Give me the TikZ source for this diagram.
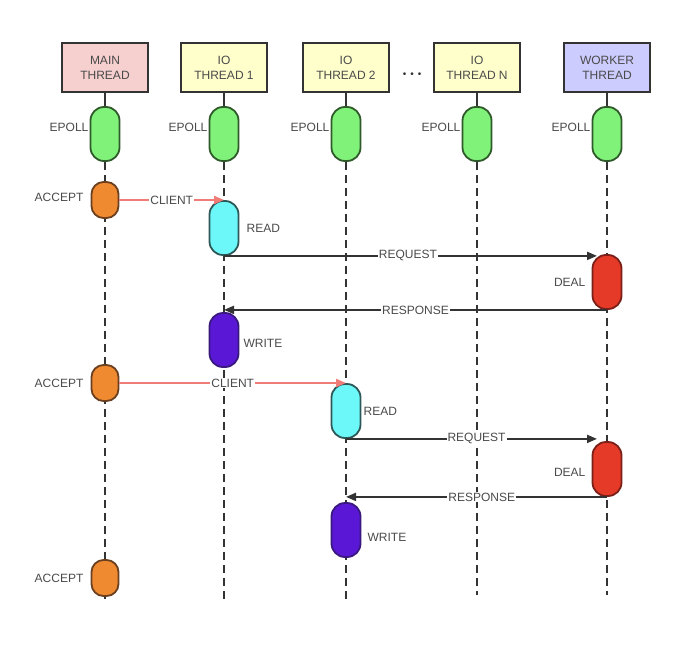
\documentclass[tikz,border=0pt]{standalone}
\usepackage{fontspec}
\setmainfont{Liberation Sans}
\usetikzlibrary{positioning, arrows.meta}
\definecolor{LineGray}{HTML}{333333}
\definecolor{TextGray}{HTML}{4A4A4A}
\definecolor{MainPink}{HTML}{F6CFCF}
\definecolor{IoYellow}{HTML}{FFFFCC}
\definecolor{WorkerLilac}{HTML}{CCCCFF}
\definecolor{EpollGreen}{HTML}{80F27A}
\definecolor{EpollEdge}{HTML}{2F5A2A}
\definecolor{AcceptOrange}{HTML}{F08A30}
\definecolor{AcceptEdge}{HTML}{6A4020}
\definecolor{ReadCyan}{HTML}{6CF8F8}
\definecolor{ReadEdge}{HTML}{2E5858}
\definecolor{DealRed}{HTML}{E63A28}
\definecolor{DealEdge}{HTML}{7A2018}
\definecolor{WritePurple}{HTML}{5A18D6}
\definecolor{WriteEdge}{HTML}{3A1880}
\definecolor{ClientRed}{HTML}{F07C78}

\begin{document}
\begin{tikzpicture}[x=1pt,y=-1pt,
  font=\fontsize{12}{15}\selectfont\color{TextGray},
  head/.style={draw=LineGray,line width=2pt,minimum width=86pt,minimum height=49pt,align=center,inner sep=2pt},
  blob/.style={rectangle,rounded corners=13.5pt,line width=1.8pt,minimum width=29pt,minimum height=54pt,inner sep=0pt},
  epoll/.style={blob,fill=EpollGreen,draw=EpollEdge},
  accept/.style={blob,minimum width=27pt,minimum height=36pt,rounded corners=12pt,fill=AcceptOrange,draw=AcceptEdge},
  read/.style={blob,fill=ReadCyan,draw=ReadEdge},
  deal/.style={blob,fill=DealRed,draw=DealEdge},
  write/.style={blob,fill=WritePurple,draw=WriteEdge},
  lbl/.style={inner sep=1pt},
  onwire/.style={fill=white,inner sep=1pt},
  life/.style={draw=LineGray,line width=2pt},
  lifedash/.style={life,dash pattern=on 8pt off 5pt},
  client/.style={draw=ClientRed,line width=2pt,-{Triangle[length=10pt,width=8pt]}},
  msg/.style={draw=LineGray,line width=2pt,-{Triangle[length=10pt,width=8pt]}}]
\useasboundingbox (0,0) rectangle (684,655);

% thread heads
\node[head,fill=MainPink] (mainhead) at (105,67.5) {MAIN\\THREAD};
\node[head,fill=IoYellow] (ioahead) at (224,67.5) {IO\\THREAD 1};
\node[head,fill=IoYellow] (iobhead) at (346,67.5) {IO\\THREAD 2};
\node (dots) at (412,75) {\fontsize{10}{10}\selectfont\color{LineGray}•\hspace{4pt}•\hspace{4pt}•};
\node[head,fill=IoYellow] (ionhead) at (477,67.5) {IO\\THREAD N};
\node[head,fill=WorkerLilac] (workhead) at (607,67.5) {WORKER\\THREAD};

% epoll and lifelines
\foreach \col/\x/\yend in {main/105/600, ioa/224/600, iob/346/600, ion/477/595, work/607/595} {
  \node[epoll] (\col epoll) at (\x,134) {};
  \node[lbl,left=0pt of \col epoll,yshift=7pt] {EPOLL};
  \coordinate (\col end) at (\x,\yend);
  \draw[life] (\col head) -- (\col epoll);
  \draw[lifedash] (\col epoll) -- (\col end);
}

% first client
\node[accept] (accepta) at (105,200) {};
\node[lbl,left=6pt of accepta,yshift=3pt] {ACCEPT};
\node[read] (reada) at (224,228) {};
\node[lbl,right=6pt of reada] {READ};
\node[deal] (deala) at (607,282) {};
\node[lbl,left=5pt of deala] {DEAL};
\node[write] (writea) at (224,340) {};
\node[lbl,right=3pt of writea,yshift=-3pt] {WRITE};

\draw[client] (accepta.east) -- node[onwire] {CLIENT} (accepta.east -| reada.north);
\draw[msg,shorten >=10pt] (reada.south) -- node[onwire,pos=0.48] {REQUEST} (reada.south -| deala.north);
\draw[msg] (deala.south) -- node[onwire] {RESPONSE} (deala.south -| writea.north);

% second client
\node[accept] (acceptb) at (105,383) {};
\node[lbl,left=6pt of acceptb] {ACCEPT};
\node[read] (readb) at (346,411) {};
\node[lbl,right=1pt of readb] {READ};
\node[deal] (dealb) at (607,469) {};
\node[lbl,left=5pt of dealb,yshift=-3pt] {DEAL};
\node[write] (writeb) at (346,530) {};
\node[lbl,right=5pt of writeb,yshift=-7pt] {WRITE};

\draw[client] (acceptb.east) -- node[onwire] {CLIENT} (acceptb.east -| readb.north);
\draw[msg,shorten >=10pt] (readb.south) -- node[onwire] {REQUEST} (readb.south -| dealb.north);
\draw[msg] (dealb.south) -- node[onwire,pos=0.48] {RESPONSE} (dealb.south -| writeb.north);

% third accept
\node[accept] (acceptc) at (105,578) {};
\node[lbl,left=6pt of acceptc] {ACCEPT};
\end{tikzpicture}
\end{document}
